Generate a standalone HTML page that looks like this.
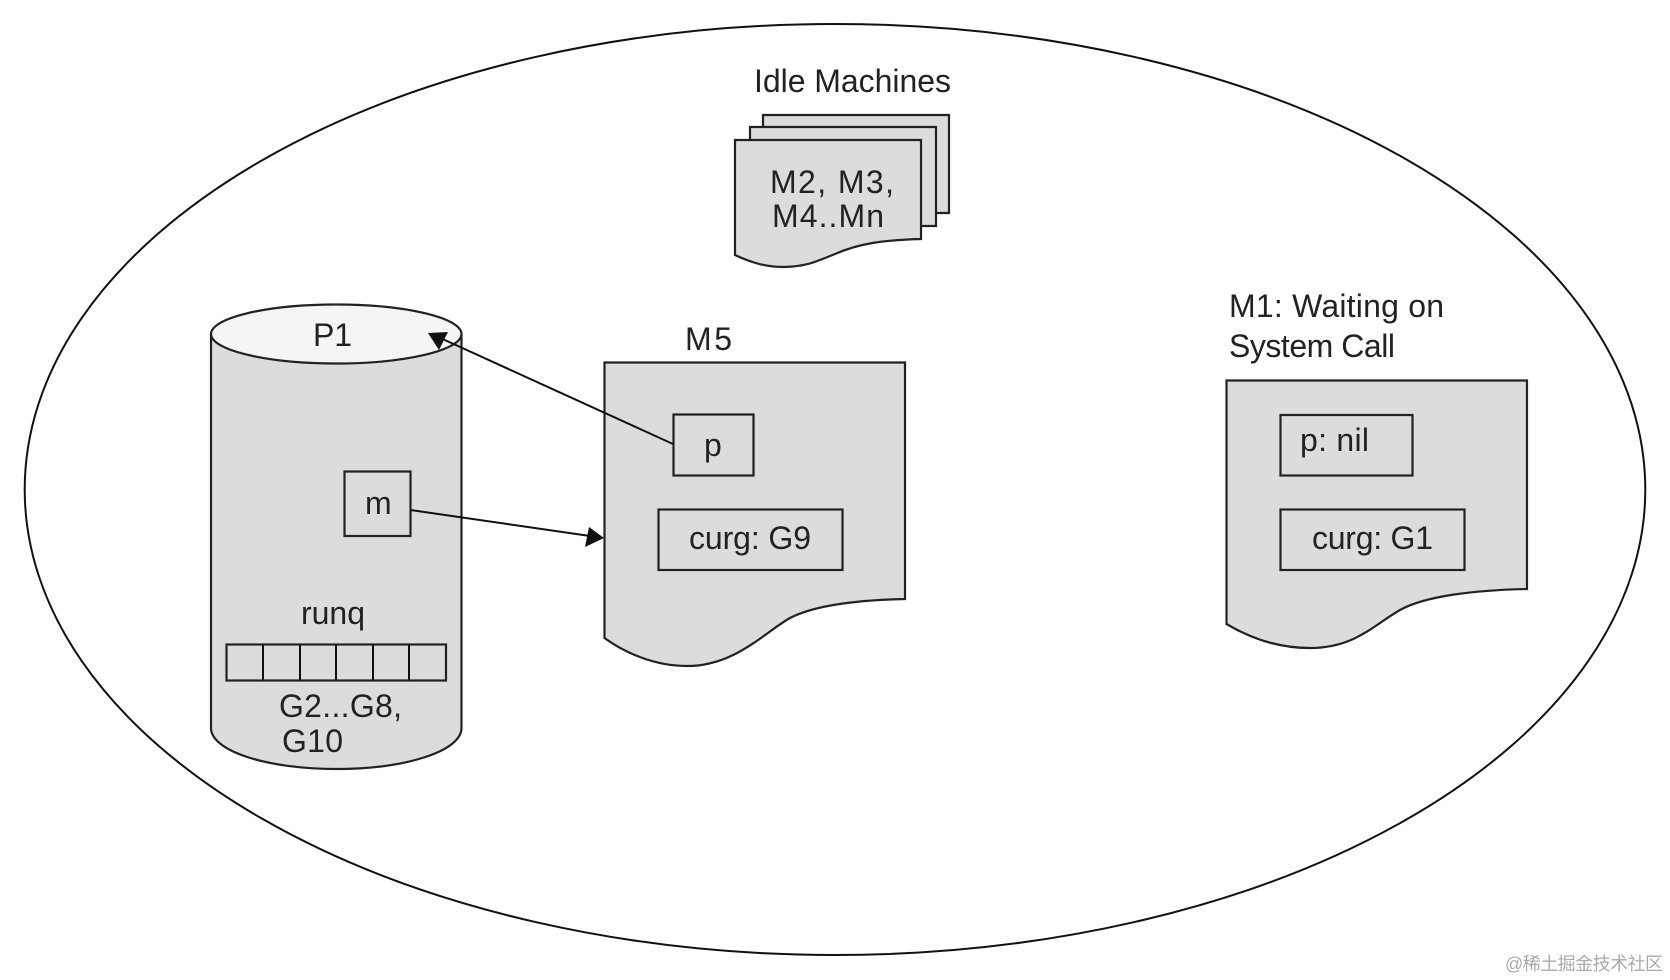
<!DOCTYPE html>
<html><head><meta charset="utf-8"><style>
html,body{margin:0;padding:0;background:#fff;width:1670px;height:980px;overflow:hidden}
svg{display:block}
text{font-family:"Liberation Sans",sans-serif;font-size:32px;fill:#222}
.s{fill:#dcdcdc;stroke:#222;stroke-width:2.2}
.l{fill:none;stroke:#111;stroke-width:2}
</style></head><body>
<svg width="1670" height="980" viewBox="0 0 1670 980" xmlns="http://www.w3.org/2000/svg">
<ellipse cx="835" cy="489.500" rx="810.300" ry="465.500" fill="#fff" stroke="#111" stroke-width="2"/>

<path class="s" d="M763 115H949V213H763Z"/>
<path class="s" d="M750 127H936V226H750Z"/>
<path class="s" d="M735 140H921V239C885 240 860 243 835 254C815 262 805 267 783 267C765 267 750 262 735 255Z"/>
<text x="754" y="92" textLength="197">Idle Machines</text>
<text x="770" y="193" textLength="124">M2, M3,</text>
<text x="772" y="227" textLength="112">M4..Mn</text>

<path class="s" d="M211 334V728C211 751 267 769 336 769C406 769 461.500 751 461.500 728V334"/>
<ellipse cx="336.250" cy="334" rx="125.250" ry="29.500" fill="#f5f5f5" stroke="#222" stroke-width="2.200"/>
<text x="313" y="346" textLength="39">P1</text>
<rect class="s" x="344.500" y="471.500" width="66" height="64.500"/>
<text x="365" y="514" textLength="25">m</text>
<text x="301" y="624" textLength="64">runq</text>
<rect class="s" x="226.500" y="644.500" width="219.500" height="36"/>
<path class="l" d="M263 644.500V680.500M300 644.500V680.500M336 644.500V680.500M373 644.500V680.500M409 644.500V680.500"/>
<text x="279" y="717" textLength="123">G2...G8,</text>
<text x="282" y="752" textLength="61">G10</text>

<path class="s" d="M604.500 362.500H905V599C860 600 815 605 790 618C765 632 735 666 687 666C655 666 625 653 604.500 638Z"/>
<text x="685" y="350" textLength="47">M5</text>
<rect class="s" x="673.500" y="414.500" width="80" height="61"/>
<text x="704" y="456" textLength="16">p</text>
<rect class="s" x="658.500" y="509.500" width="184" height="60.500"/>
<text x="689" y="549" textLength="122">curg: G9</text>

<path class="s" d="M1226.500 380.500H1527V589C1475 590 1425 596 1400 610C1375 624 1355 648 1310 648C1278 648 1250 638 1226.500 624Z"/>
<text x="1229" y="317" textLength="215">M1: Waiting on</text>
<text x="1229" y="357" textLength="166">System Call</text>
<rect class="s" x="1280.500" y="415" width="132" height="60.500"/>
<text x="1300" y="451" textLength="69">p: nil</text>
<rect class="s" x="1280.500" y="509.500" width="184" height="60.500"/>
<text x="1312" y="549" textLength="121">curg: G1</text>

<path class="l" d="M673 444L436 336"/>
<path d="M428 333L448 332L439 350Z" fill="#111"/>
<path class="l" d="M410.500 510L590 536"/>
<path d="M604 538L589 527L585 547Z" fill="#111"/>

<text x="1505" y="970" textLength="158" style="font-family:'Liberation Sans','Noto Sans CJK SC',sans-serif;font-size:18px;fill:#aaa">@稀土掘金技术社区</text>
</svg>
</body></html>
